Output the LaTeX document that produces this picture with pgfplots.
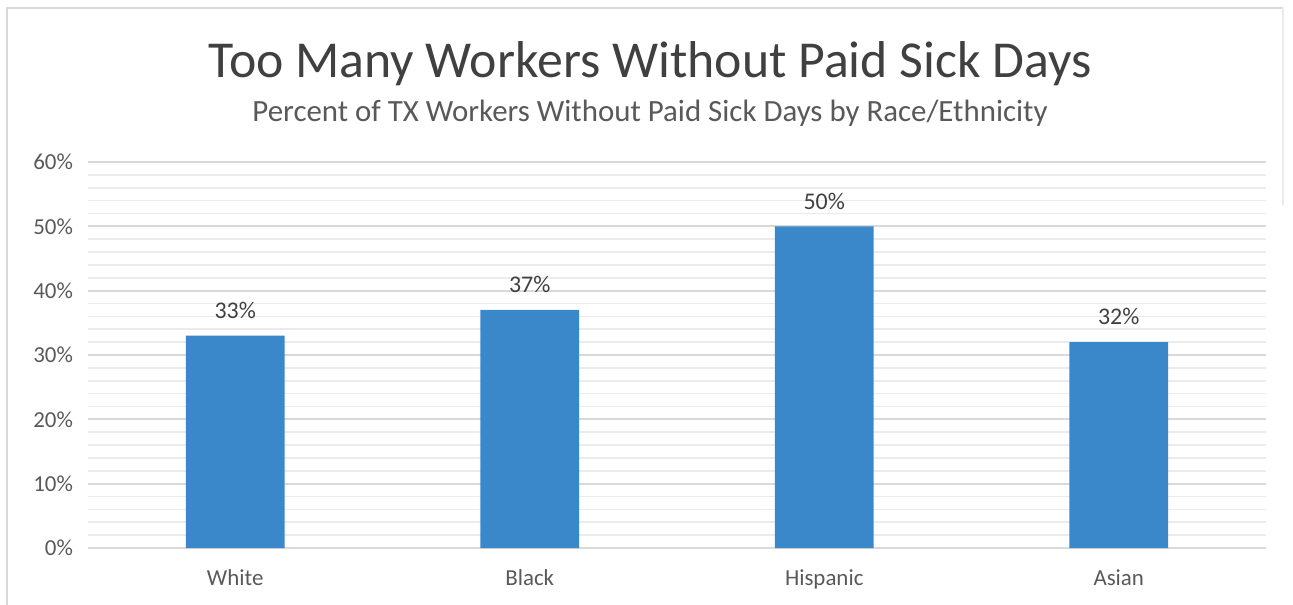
\documentclass[border=0pt]{standalone}
\usepackage{pgfplots}
\pgfplotsset{compat=1.18}
\usepackage{fontspec}
\setmainfont{Carlito}
\definecolor{barblue}{HTML}{3A87CA}
\definecolor{majgrid}{HTML}{D9D9D9}
\definecolor{mingrid}{HTML}{EBEBEB}
\definecolor{txt}{HTML}{404040}
\definecolor{subtxt}{HTML}{595959}
\begin{document}
\begin{tikzpicture}
\path[use as bounding box] (0bp,0bp) rectangle (646.5bp,302.5bp);
\draw[majgrid,line width=1.2bp] (3.5bp,0bp) -- (3.5bp,298.5bp) -- (641.5bp,298.5bp);
\draw[mingrid,line width=1bp] (641.5bp,298.5bp) -- (641.5bp,200bp);
\node[txt,font=\fontsize{26}{30}\selectfont] at (325bp,270.5bp) {Too Many Workers Without Paid Sick Days};
\node[subtxt,font=\fontsize{15.5}{18}\selectfont] at (325bp,246bp) {Percent of TX Workers Without Paid Sick Days by Race/Ethnicity};
\begin{axis}[
  at={(44bp,28.5bp)}, anchor=south west,
  scale only axis, width=589bp, height=193bp,
  xmin=-0.5, xmax=3.5, ymin=0, ymax=60,
  axis line style={draw=none},
  tick style={draw=none},
  ytick={0,10,...,60},
  minor ytick={2,4,...,58},
  ymajorgrids, yminorgrids,
  major grid style={majgrid,line width=0.9bp},
  minor grid style={mingrid,line width=0.8bp},
  yticklabel={\pgfmathprintnumber{\tick}\%},
  /pgf/number format/assume math mode=true,
  yticklabel style={subtxt,font=\fontsize{11.5}{14}\selectfont, xshift=-4bp},
  xtick=data, xticklabels={White,Black,Hispanic,Asian},
  xticklabel style={subtxt,font=\fontsize{11.5}{14}\selectfont, yshift=-3bp},
  ybar, bar width=0.336,
  nodes near coords={\pgfmathprintnumber{\pgfplotspointmeta}\%},
  nodes near coords style={txt,font=\fontsize{12}{14}\selectfont, yshift=5bp},
  clip=false,
]
\addplot[fill=barblue, draw=none] coordinates {(0,33) (1,37) (2,50) (3,32)};
\end{axis}
\end{tikzpicture}
\end{document}
